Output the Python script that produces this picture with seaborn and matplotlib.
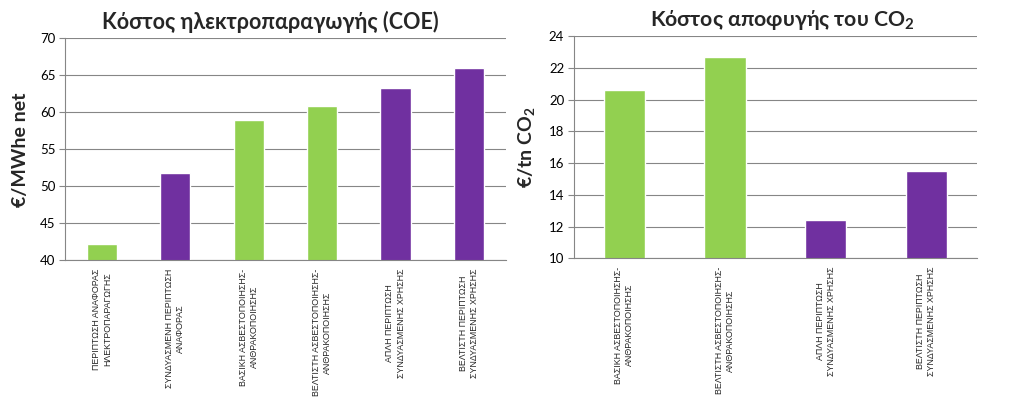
import matplotlib
matplotlib.use("Agg")
import matplotlib.pyplot as plt
import seaborn as sns
import numpy as np
from matplotlib import font_manager as fm

coe_labels = [
    "ΠΕΡΙΠΤΩΣΗ ΑΝΑΦΟΡΑΣ\nΗΛΕΚΤΡΟΠΑΡΑΓΩΓΗΣ",
    "ΣΥΝΔΥΑΣΜΕΝΗ ΠΕΡΙΠΤΩΣΗ\nΑΝΑΦΟΡΑΣ",
    "ΒΑΣΙΚΗ ΑΣΒΕΣΤΟΠΟΙΗΣΗΣ-\nΑΝΘΡΑΚΟΠΟΙΗΣΗΣ",
    "ΒΕΛΤΙΣΤΗ ΑΣΒΕΣΤΟΠΟΙΗΣΗΣ-\nΑΝΘΡΑΚΟΠΟΙΗΣΗΣ",
    "ΑΠΛΗ ΠΕΡΙΠΤΩΣΗ\nΣΥΝΔΥΑΣΜΕΝΗΣ ΧΡΗΣΗΣ",
    "ΒΕΛΤΙΣΤΗ ΠΕΡΙΠΤΩΣΗ\nΣΥΝΔΥΑΣΜΕΝΗΣ ΧΡΗΣΗΣ",
]
coe_values = [42.2, 51.8, 58.9, 60.8, 63.3, 66.0]
coe_colors = ["#92D050", "#7030A0", "#92D050", "#92D050", "#7030A0", "#7030A0"]
coe_ticks = [40, 45, 50, 55, 60, 65, 70]

co2_labels = [
    "ΒΑΣΙΚΗ ΑΣΒΕΣΤΟΠΟΙΗΣΗΣ-\nΑΝΘΡΑΚΟΠΟΙΗΣΗΣ",
    "ΒΕΛΤΙΣΤΗ ΑΣΒΕΣΤΟΠΟΙΗΣΗΣ-\nΑΝΘΡΑΚΟΠΟΙΗΣΗΣ",
    "ΑΠΛΗ ΠΕΡΙΠΤΩΣΗ\nΣΥΝΔΥΑΣΜΕΝΗΣ ΧΡΗΣΗΣ",
    "ΒΕΛΤΙΣΤΗ ΠΕΡΙΠΤΩΣΗ\nΣΥΝΔΥΑΣΜΕΝΗΣ ΧΡΗΣΗΣ",
]
co2_values = [20.6, 22.7, 12.4, 15.5]
co2_colors = ["#92D050", "#92D050", "#7030A0", "#7030A0"]
co2_ticks = [10, 12, 14, 16, 18, 20, 22, 24]

sns.set_style("white")
plt.rcParams['font.family'] = ['Lato', 'DejaVu Sans']
plt.rcParams['mathtext.fontset'] = 'custom'
plt.rcParams['mathtext.rm'] = 'Lato'
plt.rcParams['mathtext.bf'] = 'Lato:bold'

names = {f.name for f in fm.fontManager.ttflist}
label_font = 'Liberation Sans Narrow' if 'Liberation Sans Narrow' in names else 'Liberation Sans'

fig = plt.figure(figsize=(10.17, 4.01), dpi=100)
ax1 = fig.add_axes([65/1017, 1-260.3/401, 440.7/1017, 222/401])
ax2 = fig.add_axes([574/1017, 1-258.3/401, 402.7/1017, 222.3/401])

# fit the category-label font so the longest line is about as long as in the reference
renderer = fig.canvas.get_renderer()
probe = fig.text(0, 0, "ΣΥΝΔΥΑΣΜΕΝΗ ΠΕΡΙΠΤΩΣΗ", fontsize=10, family=[label_font, 'DejaVu Sans'])
w = probe.get_window_extent(renderer=renderer).width
probe.remove()
label_size = 10 * 119 / w

def draw(ax, labels, values, colors, ticks, title, ylabel, tsize, tx):
    sns.barplot(x=list(range(len(labels))), y=values, hue=list(range(len(labels))),
                palette=colors, width=0.41, legend=False, ax=ax, saturation=1)
    n = len(labels)
    ax.set_xlim(-0.5, n - 0.5)
    ax.set_ylim(ticks[0], ticks[-1])
    ax.set_yticks(ticks)
    ax.set_yticklabels([str(t) for t in ticks], fontsize=9.5, color="#000000")
    ax.set_xticks(range(n))
    ax.set_xticklabels(labels, rotation=90, fontsize=label_size, family=[label_font, 'DejaVu Sans'],
                       ha='center', va='top', multialignment='center', linespacing=1.3)
    ax.set_xticks(np.arange(-0.5, n, 1.0), minor=True)
    ax.tick_params(axis='x', which='major', length=0, pad=6)
    ax.tick_params(axis='x', which='minor', length=4, color="#868686", width=0.8, direction='out')
    ax.tick_params(axis='y', length=4, color="#868686", width=0.8, direction='out', left=True, pad=3)
    ax.yaxis.grid(True, color="#868686", linewidth=0.8)
    ax.set_axisbelow(True)
    for s in ['top', 'right']:
        ax.spines[s].set_visible(False)
    for s in ['left', 'bottom']:
        ax.spines[s].set_color("#868686")
        ax.spines[s].set_linewidth(0.8)
    ax.set_title(title, fontsize=tsize, fontweight='bold', pad=7, x=tx)
    ax.set_ylabel(ylabel, fontsize=14, fontweight='bold', labelpad=8)
    ax.set_xlabel("")

draw(ax1, coe_labels, coe_values, coe_colors, coe_ticks,
     "Κόστος ηλεκτροπαραγωγής (COE)", "€/MWhe net", 15.5, 0.465)
draw(ax2, co2_labels, co2_values, co2_colors, co2_ticks,
     r"Κόστος αποφυγής του CO$_\mathbf{2}$", r"€/tn CO$_\mathbf{2}$", 15.3, 0.517)

fig.savefig("out.png", dpi=100, facecolor="white")
